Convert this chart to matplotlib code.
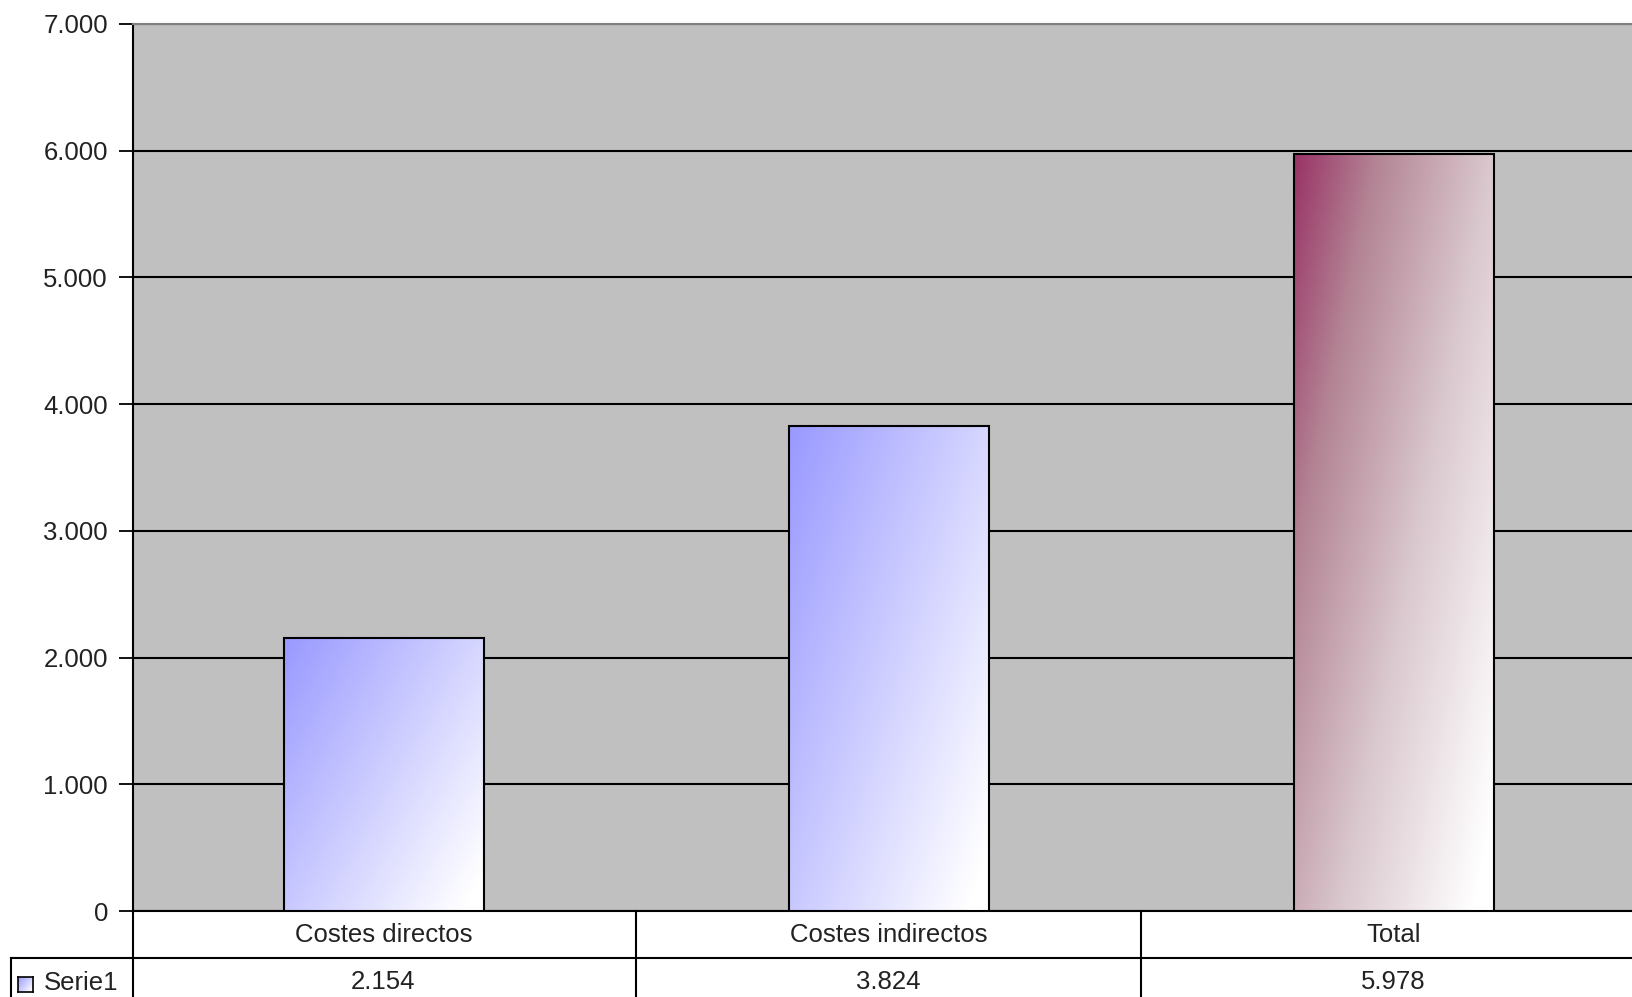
import numpy as np
import matplotlib
matplotlib.use("Agg")
import matplotlib.pyplot as plt
from matplotlib.colors import LinearSegmentedColormap
from matplotlib.transforms import blended_transform_factory

# data
categories = ["Costes directos", "Costes indirectos", "Total"]
values = [2154, 3824, 5978]
series_name = "Serie1"
yticks = [0, 1000, 2000, 3000, 4000, 5000, 6000, 7000]

# gradient stops (top-left colour -> white)
blue_stops = [(0.0, "#9999FF"), (1.0, "#FFFFFF")]
plum_stops = [(0.0, "#993366"), (0.25, "#B38494"), (0.6, "#DAC8CF"), (1.0, "#FFFFFF")]
bar_stops = [blue_stops, blue_stops, plum_stops]

W, H = 1632, 997
plt.rcParams['font.family'] = ['Liberation Sans', 'DejaVu Sans']
fs = 18.5

fig = plt.figure(figsize=(W / 100, H / 100), dpi=100)
fig.patch.set_facecolor("white")

# plot area: axis line at 133 px, zero line at 911 px, top at 24 px, 505 px per category
cw = 505
left = 133
x_start = -0.5 + 2 / cw
ax = fig.add_axes([left / W, (H - 911) / H, (2.5 - x_start) * cw / W, (911 - 24) / H])
ax.set_facecolor("#C0C0C0")


def fmt(v):
    return f"{v:,}".replace(",", ".")


def gradient(stops, n=200):
    u = np.linspace(0, 1, n)[None, :]
    v = np.linspace(0, 1, n)[:, None]
    t = np.clip(0.6 * u + 0.46 * v, 0, 1)
    cmap = LinearSegmentedColormap.from_list("g", stops)
    return cmap(t)


x = np.arange(len(categories))
bars = ax.bar(x, values, width=200 / cw, facecolor="none", edgecolor="black",
              linewidth=1.5, zorder=4)
for b, st in zip(bars, bar_stops):
    x0, y0 = b.get_x(), b.get_y()
    img = ax.imshow(gradient(st), extent=[x0, x0 + b.get_width(), y0, y0 + b.get_height()],
                    aspect="auto", origin="upper", zorder=3, interpolation="bilinear")
    img.set_clip_path(b)
ax.set_xlim(x_start, 2.5)
ax.set_ylim(0, 7000)

ax.set_yticks(yticks)
ax.set_yticklabels([fmt(v) for v in yticks], fontsize=fs, color="#222222")
ax.set_xticks([])
ax.tick_params(axis="y", length=10, width=1.3, pad=8, color="black")
ax.grid(axis="y", color="black", linewidth=1.5, zorder=1)
ax.set_axisbelow(True)
for s in ["left", "bottom"]:
    ax.spines[s].set_color("black")
    ax.spines[s].set_linewidth(1.5)
ax.spines["top"].set_color("#808080")
ax.spines["top"].set_linewidth(1.5)
ax.spines["right"].set_visible(False)

# data table under the plot
tr = blended_transform_factory(ax.transData, ax.transAxes)
row_h = 47 / (911 - 24)
legend_left = x_start - (left - 11) / cw
lk = dict(color="black", linewidth=1.5, transform=tr, clip_on=False)
for xv in [x_start, 0.5, 1.5, 2.5]:
    ax.plot([xv, xv], [0, -2.2 * row_h], **lk)
ax.plot([legend_left, 2.5], [-row_h, -row_h], **lk)
ax.plot([legend_left, legend_left], [-row_h, -2.2 * row_h], **lk)
for xi, cat, val in zip(x, categories, values):
    ax.text(xi, -0.5 * row_h, cat, transform=tr, ha="center", va="center",
            fontsize=fs, color="#222222", clip_on=False)
    ax.text(xi, -1.5 * row_h, fmt(val), transform=tr, ha="center", va="center",
            fontsize=fs, color="#222222", clip_on=False)

# legend key inside the table
kax = fig.add_axes([18 / W, (H - 992) / H, 15 / W, 15 / H])
kax.imshow(gradient(blue_stops), aspect="auto", interpolation="bilinear")
kax.set_xticks([])
kax.set_yticks([])
for s in kax.spines.values():
    s.set_color("black")
    s.set_linewidth(1.2)
fig.text(44 / W, (H - 983) / H, series_name, ha="left", va="center",
         fontsize=fs, color="#222222")

fig.savefig("out.png", dpi=100)
